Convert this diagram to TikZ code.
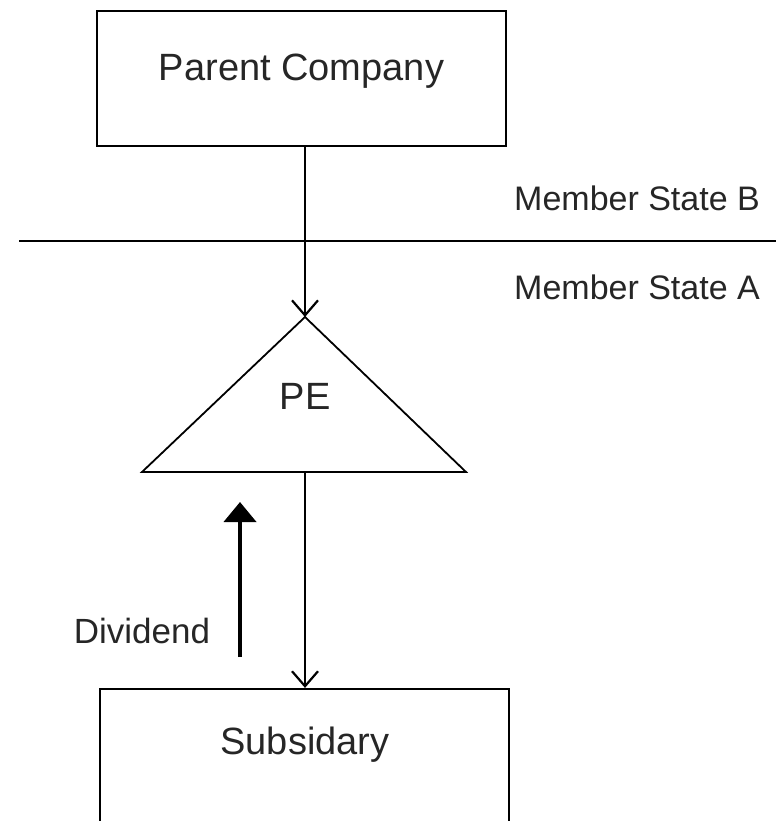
\documentclass[tikz,border=0pt]{standalone}
\usepackage{fontspec}
\setmainfont{Liberation Sans}
\usetikzlibrary{arrows.meta}
\tikzset{
  boxshape/.style={draw=black, line width=2.2pt, rectangle, inner sep=0pt},
  txt/.style={inner sep=0pt, font=\fontsize{38}{42}\selectfont, text=black!85},
  lbl/.style={inner sep=0pt, font=\fontsize{34}{38}\selectfont, text=black!85},
  conn/.style={draw=black, line width=2pt, -{Straight Barb[length=15pt,width=26pt,line width=2.2pt]}},
  divarrow/.style={draw=black, line width=4pt, -{Triangle[length=20pt,width=32pt]}},
}
\begin{document}
\begin{tikzpicture}[x=1pt,y=-1pt]
\useasboundingbox (0,0) rectangle (776,821);
% Parent company box
\node[boxshape, minimum width=409pt, minimum height=135pt] (pc) at (301.5,78.5) {};
\node[txt] (pctext) at (301.5,71) {Parent Company};
% Subsidiary box (bottom edge off the picture)
\node[boxshape, minimum width=409pt, minimum height=150pt] (sub) at (304.5,764) {};
\node[txt] (subtext) at (305,745) {Subsidary};
% Member state border
\coordinate (bl0) at (19,241);
\coordinate (br0) at (776,241);
\draw[line width=2.2pt] (bl0) -- (br0);
\node[lbl, anchor=west] (msb) at (514,198) {Member State B};
\node[lbl, anchor=west] (msa) at (514,287) {Member State A};
% PE triangle
\coordinate (apex) at (305,317);
\coordinate (tl) at (142,472);
\coordinate (tr) at (466,472);
\coordinate (pebase) at (305,472);
\draw[line width=1.8pt, line join=miter] (apex) -- (tr) -- (tl) -- cycle;
\node[txt] (pe) at (305,396) {PE};
% connectors
\draw[conn] (pc.south -| apex) -- (apex);
\draw[conn] (pebase) -- (sub.north -| pebase);
% Dividend
\coordinate (dstart) at (240,657);
\coordinate (dend) at (240,502);
\draw[divarrow] (dstart) -- (dend);
\node[lbl, font=\fontsize{35}{39}\selectfont] (div) at (142,631) {Dividend};
\end{tikzpicture}
\end{document}
